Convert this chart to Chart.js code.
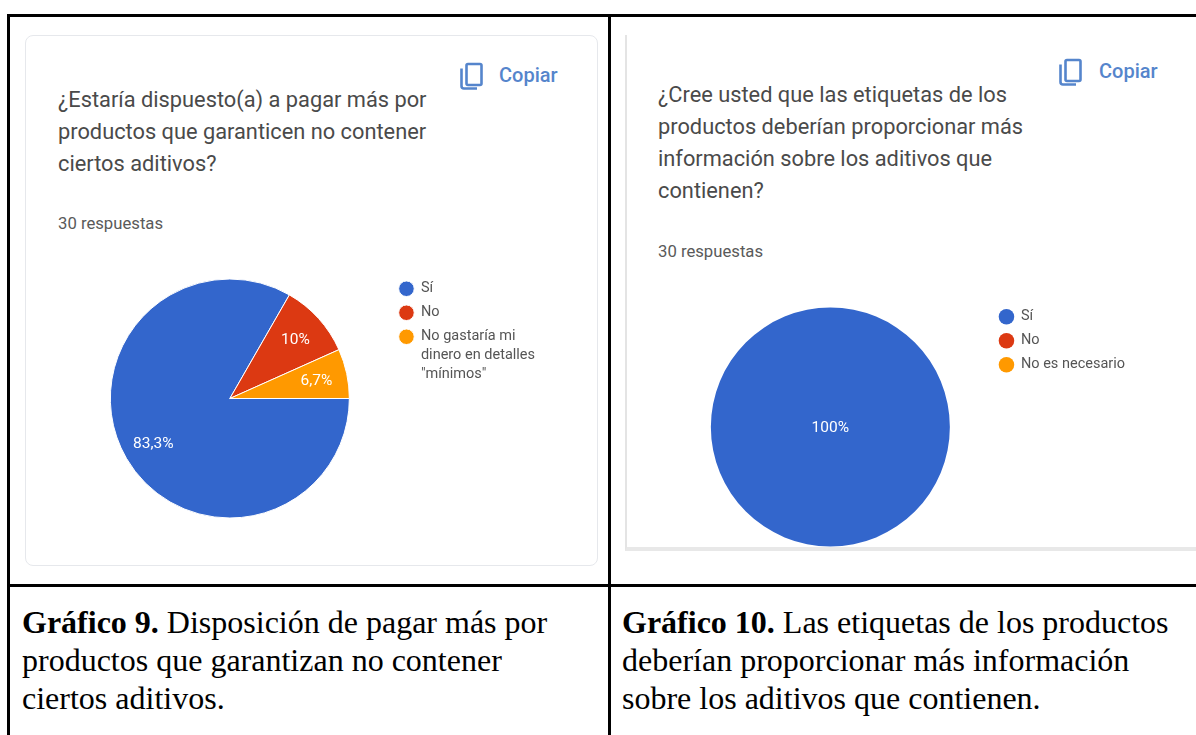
<!DOCTYPE html>
<html lang="es">
<head>
<meta charset="utf-8">
<title>Gráficos 9 y 10</title>
<script src="https://cdn.jsdelivr.net/npm/chart.js@4"></script>
<style>
  html, body { margin: 0; padding: 0; background: #fff; }
  body { position: relative; width: 1196px; height: 735px; overflow: hidden; font-family: Roboto, sans-serif; }
  .rule { position: absolute; background: #000; }
  .card { position: absolute; box-sizing: border-box; }
  #card1 { left: 25px; top: 35px; width: 573px; height: 531px; border: 1px solid #e6e8ec; border-radius: 8px; }
  #card2 { left: 625px; top: 35px; width: 571px; height: 516px; border-left: 2px solid #e4e4e4; border-bottom: 4px solid #e8e8e8; }
  .txt { position: absolute; white-space: nowrap; }
  .question { color: #4a4a4a; font-size: 21.8px; line-height: 32px; }
  .count { color: #5a5a5a; font-size: 16.7px; }
  .copy { color: #5585cc; font-size: 20px; font-weight: 500; }
  .caption { font-family: "Liberation Serif", serif; font-size: 32px; line-height: 38px; color: #000; }
  svg.icon { position: absolute; }
  canvas { position: absolute; }
</style>
</head>
<body>
<div class="rule" style="left:7px;top:14px;width:1189px;height:3px"></div>
<div class="rule" style="left:7px;top:14px;width:3px;height:721px"></div>
<div class="rule" style="left:608px;top:14px;width:3px;height:721px"></div>
<div class="rule" style="left:7px;top:584px;width:1189px;height:3px"></div>

<div class="card" id="card1"></div>
<div class="card" id="card2"></div>

<svg class="icon" style="left:459px;top:62px" width="26" height="29" viewBox="0 0 26 29" fill="none" stroke="#5585cc" stroke-width="2.6">
  <rect x="7.5" y="2" width="15" height="21" rx="1.5"></rect>
  <path d="M2.5 6.5V24q0 2.5 2.5 2.5H18"></path>
</svg>
<div class="txt copy" style="left:499px;top:63px">Copiar</div>
<div class="txt question" style="left:58px;top:84px">¿Estaría dispuesto(a) a pagar más por<br>productos que garanticen no contener<br>ciertos aditivos?</div>
<div class="txt count" style="left:58px;top:214px">30 respuestas</div>

<svg class="icon" style="left:1058px;top:58px" width="26" height="29" viewBox="0 0 26 29" fill="none" stroke="#5585cc" stroke-width="2.6">
  <rect x="7.5" y="2" width="15" height="21" rx="1.5"></rect>
  <path d="M2.5 6.5V24q0 2.5 2.5 2.5H18"></path>
</svg>
<div class="txt copy" style="left:1099px;top:59px">Copiar</div>
<div class="txt question" style="left:658px;top:79px">¿Cree usted que las etiquetas de los<br>productos deberían proporcionar más<br>información sobre los aditivos que<br>contienen?</div>
<div class="txt count" style="left:658px;top:242px">30 respuestas</div>

<canvas id="pie9" style="left:70px;top:272px"></canvas>
<canvas id="pie10" style="left:671px;top:300px"></canvas>

<div class="txt caption" style="left:22px;top:603px"><b>Gráfico 9.</b> Disposición de pagar más por<br>productos que garantizan no contener<br>ciertos aditivos.</div>
<div class="txt caption" style="left:622px;top:603px"><b>Gráfico 10.</b> Las etiquetas de los productos<br>deberían proporcionar más información<br>sobre los aditivos que contienen.</div>

<script>
const labels9 = ['Sí', 'No', ['No gastaría mi', 'dinero en detalles', '"mínimos"']];
const values9 = [83.3, 10, 6.7];
const labels10 = ['Sí', 'No', 'No es necesario'];
const values10 = [100, 0, 0];
const colors = ['#3366cc', '#dc3912', '#ff9900'];

// percent text inside each slice, decimal comma as in the survey export
const sliceLabels = {
  id: 'sliceLabels',
  afterDatasetsDraw(chart) {
    const ctx = chart.ctx;
    const values = chart.data.datasets[0].data;
    ctx.save();
    ctx.fillStyle = '#fff';
    ctx.font = '15.5px Roboto';
    ctx.textAlign = 'center';
    ctx.textBaseline = 'middle';
    chart.getDatasetMeta(0).data.forEach((arc, i) => {
      if (!values[i]) return;
      const p = arc.getProps(['x', 'y', 'startAngle', 'endAngle', 'outerRadius'], true);
      const mid = (p.startAngle + p.endAngle) / 2;
      const r = values[i] === 100 ? 0 : p.outerRadius * 0.74;
      const text = String(values[i]).replace('.', ',') + '%';
      ctx.fillText(text, p.x + Math.cos(mid) * r, p.y + Math.sin(mid) * r + 1);
    });
    ctx.restore();
  }
};

function drawPie(id, labels, values, width, height, radius, border) {
  const canvas = document.getElementById(id);
  canvas.width = width;
  canvas.height = height;
  return new Chart(canvas, {
    type: 'pie',
    data: {
      labels: labels,
      datasets: [{
        data: values,
        backgroundColor: colors,
        borderColor: '#fff',
        borderWidth: border,
        radius: radius
      }]
    },
    options: {
      responsive: false,
      animation: false,
      rotation: 90,
      layout: { padding: 0 },
      plugins: {
        tooltip: { enabled: false },
        legend: {
          position: 'right',
          align: 'start',
          labels: {
            usePointStyle: true,
            pointStyle: 'circle',
            boxHeight: 11,
            font: { family: 'Roboto', size: 14.5, lineHeight: 1.31 },
            color: '#555',
            padding: 9.5
          }
        }
      }
    },
    plugins: [sliceLabels]
  });
}

drawPie('pie9', labels9, values9, 475, 253, 119.5, 1);
drawPie('pie10', labels10, values10, 464, 254, 119.5, 0);
</script>
</body>
</html>
